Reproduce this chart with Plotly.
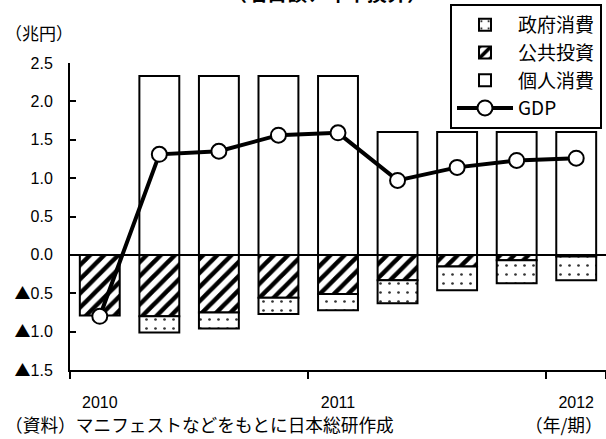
import plotly.graph_objects as go

# ---- data ----
periods = ["2010-1", "2010-2", "2010-3", "2010-4", "2011-1",
           "2011-2", "2011-3", "2011-4", "2012-1"]
label_periods = ["2010-1", "2011-1", "2012-1"]
label_text = ["2010", "2011", "2012"]
public_invest = [-0.79, -0.80, -0.75, -0.56, -0.51, -0.33, -0.15, -0.07, -0.02]
gov_consumption = [0.0, -0.21, -0.21, -0.21, -0.21, -0.30, -0.31, -0.30, -0.31]
private_consumption = [0.0, 2.33, 2.33, 2.33, 2.33, 1.60, 1.60, 1.60, 1.60]
gdp = [-0.80, 1.31, 1.35, 1.56, 1.59, 0.97, 1.14, 1.23, 1.26]
y_ticks = [-1.5, -1.0, -0.5, 0.0, 0.5, 1.0, 1.5, 2.0, 2.5]
y_tick_text = ["▲1.5", "▲1.0", "▲0.5", "0.0", "0.5", "1.0", "1.5", "2.0", "2.5"]

W, H = 606, 439
L, R, T, B = 70, 0, 63, 69
PW, PH = W - L - R, H - T - B

def px(x):
    return (x - L) / PW

def py(y):
    return (H - B - y) / PH

NUM_FONT = "Liberation Sans, Arial, Noto Sans CJK JP, sans-serif"
JP_FONT = "Noto Sans CJK JP, sans-serif"

def style_tick(t):
    if t.startswith("▲"):
        return ('<span style="font-family:Noto Sans CJK JP">▲</span>' + t[1:])
    return t

fig = go.Figure()
fig.add_trace(go.Bar(
    x=periods, y=public_invest, name="公共投資", legendrank=2,
    marker=dict(color="white", line=dict(color="black", width=2),
                pattern=dict(shape="/", fgcolor="black", bgcolor="white",
                             fgopacity=1, size=10, solidity=0.45)),
))
fig.add_trace(go.Bar(
    x=periods, y=gov_consumption, name="政府消費", legendrank=1,
    marker=dict(color="white", line=dict(color="black", width=2),
                pattern=dict(shape=".", fgcolor="black", bgcolor="white",
                             fgopacity=0.8, size=9, solidity=0.07)),
))
fig.add_trace(go.Bar(
    x=periods, y=private_consumption, name="個人消費", legendrank=3,
    marker=dict(color="white", line=dict(color="black", width=2)),
))
fig.add_trace(go.Scatter(
    x=periods, y=gdp, name="GDP", legendrank=4, mode="lines+markers",
    line=dict(color="black", width=4),
    marker=dict(symbol="circle", size=15, color="white",
                line=dict(color="black", width=2)),
))

fig.update_layout(
    width=W, height=H,
    margin=dict(l=L, r=R, t=T, b=B, pad=0, autoexpand=False),
    paper_bgcolor="white", plot_bgcolor="white",
    barmode="relative", bargap=0.33,
    showlegend=True,
    legend=dict(
        x=px(602), y=py(4), xanchor="right", yanchor="top",
        bordercolor="black", borderwidth=2, bgcolor="white",
        font=dict(family=JP_FONT, size=19, color="black"),
        tracegroupgap=0, itemwidth=56,
    ),
    font=dict(family=NUM_FONT, size=16, color="black"),
    xaxis=dict(
        type="category", categoryorder="array", categoryarray=periods,
        tickmode="array", tickvals=label_periods, ticktext=label_text,
        tickson="boundaries", ticks="outside", ticklen=7, tickwidth=2, tickcolor="black",
        showline=True, linecolor="black", linewidth=2,
        showgrid=False, zeroline=False,
        tickfont=dict(family=NUM_FONT, size=16, color="black"),
        ticklabelstandoff=17,
        range=[-0.5, len(periods) - 0.5],
    ),
    yaxis=dict(
        range=[-1.5, 2.5], tickmode="array", tickvals=y_ticks,
        ticktext=[style_tick(t) for t in y_tick_text],
        showline=True, linecolor="black", linewidth=2,
        ticks="inside", ticklen=6, tickwidth=2, tickcolor="black",
        showgrid=False, zeroline=True, zerolinecolor="black", zerolinewidth=2,
        tickfont=dict(family=NUM_FONT, size=16, color="black"),
        ticklabelstandoff=12,
    ),
    annotations=[
        dict(text="<b>（名目額、年率換算）</b>", xref="paper", yref="paper",
             x=px(327), y=py(-7), xanchor="center", yanchor="middle",
             showarrow=False, font=dict(family=JP_FONT, size=20, color="black")),
        dict(text="（兆円）", xref="paper", yref="paper",
             x=px(3), y=py(33), xanchor="left", yanchor="middle",
             showarrow=False, font=dict(family=JP_FONT, size=17, color="black")),
        dict(text="（資料）マニフェストなどをもとに日本総研作成", xref="paper", yref="paper",
             x=px(3), y=py(424), xanchor="left", yanchor="middle",
             showarrow=False, font=dict(family=JP_FONT, size=17.7, color="black")),
        dict(text="（年/期）", xref="paper", yref="paper",
             x=px(605), y=py(424), xanchor="right", yanchor="middle",
             showarrow=False, font=dict(family=JP_FONT, size=17.7, color="black")),
    ],
)

fig.write_html("out.html", config={"displayModeBar": False},
               post_script="document.body.style.margin='0';document.body.style.overflow='hidden';")
